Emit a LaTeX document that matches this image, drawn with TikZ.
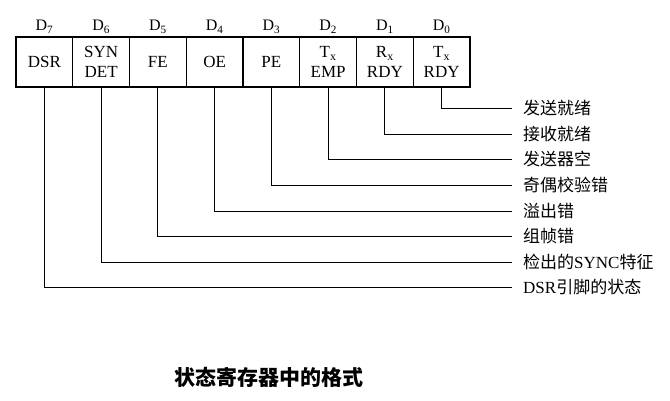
\documentclass[tikz,border=0pt]{standalone}
\usepackage{fontspec}
\setmainfont{Liberation Serif}
\newfontfamily\cjk{Noto Sans CJK SC}
\begin{document}
\begin{tikzpicture}[x=1pt,y=-1pt,
  cell/.style={draw,line width=1.2pt,minimum width=56.75pt,minimum height=50pt,inner sep=0pt,align=center,font=\fontsize{17}{19.5}\selectfont},
  bitlbl/.style={font=\fontsize{16}{18}\selectfont,inner sep=0pt},
  desc/.style={anchor=west,inner xsep=11pt,inner ysep=0pt,font=\fontsize{17}{19}\selectfont},
  wire/.style={line width=0.8pt},
  caption/.style={font=\cjk\bfseries\fontsize{21}{24}\selectfont,inner sep=0pt}]
\useasboundingbox (0,0) rectangle (670,400);
% register cells
\node[cell] (c7) at (44.375,62) {DSR};
\node[cell] (c6) at (101.125,62) {SYN\\DET};
\node[cell] (c5) at (157.875,62) {FE};
\node[cell] (c4) at (214.625,62) {OE};
\node[cell] (c3) at (271.375,62) {PE};
\node[cell] (c2) at (328.125,62) {T\textsubscript{x}\\EMP};
\node[cell] (c1) at (384.875,62) {R\textsubscript{x}\\RDY};
\node[cell] (c0) at (441.625,62) {T\textsubscript{x}\\RDY};
% bit labels
\node[bitlbl] (d7) at (44.375,27) {D\textsubscript{7}};
\node[bitlbl] (d6) at (101.125,27) {D\textsubscript{6}};
\node[bitlbl] (d5) at (157.875,27) {D\textsubscript{5}};
\node[bitlbl] (d4) at (214.625,27) {D\textsubscript{4}};
\node[bitlbl] (d3) at (271.375,27) {D\textsubscript{3}};
\node[bitlbl] (d2) at (328.125,27) {D\textsubscript{2}};
\node[bitlbl] (d1) at (384.875,27) {D\textsubscript{1}};
\node[bitlbl] (d0) at (441.625,27) {D\textsubscript{0}};
% descriptions
\node[desc] (t0) at (512,108) {\cjk 发送就绪};
\node[desc] (t1) at (512,134) {\cjk 接收就绪};
\node[desc] (t2) at (512,159) {\cjk 发送器空};
\node[desc] (t3) at (512,185) {\cjk 奇偶校验错};
\node[desc] (t4) at (512,211) {\cjk 溢出错};
\node[desc] (t5) at (512,236) {\cjk 组帧错};
\node[desc] (t6) at (512,262) {{\cjk 检出的}SYNC{\cjk 特征}};
\node[desc] (t7) at (512,287) {DSR{\cjk 引脚的状态}};
% connectors
\foreach \i in {0,...,7}{
  \draw[wire] (c\i.south) |- (t\i.west);
}
% caption
\node[caption] (cap) at (269,377) {状态寄存器中的格式};
\end{tikzpicture}
\end{document}
